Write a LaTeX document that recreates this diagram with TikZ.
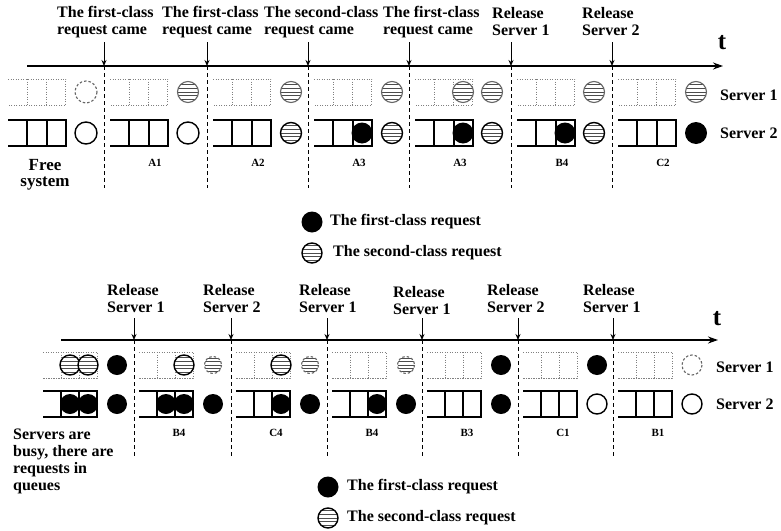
\documentclass[tikz,border=0pt]{standalone}
\usepackage{fontspec}
\setmainfont{Liberation Serif}
\usetikzlibrary{arrows.meta}

\newcommand{\evfont}{\fontsize{16}{17}\selectfont\bfseries}

\tikzset{
  qsolid/.style={line width=1.8pt},
  qdot/.style={line width=0.9pt, gray, dash pattern=on 1.3pt off 1.2pt},
  ring/.style={line width=1.4pt},
  ringgray/.style={line width=1.1pt, gray!80!black},
  ringdash/.style={line width=1.1pt, gray!80!black, dash pattern=on 2.5pt off 2pt},
  stripe/.style={line width=1pt, gray!60!black},
  sepline/.style={line width=1pt, dash pattern=on 4pt off 3pt},
  evarrow/.style={line width=1pt, -{Stealth[length=6pt,width=5pt]}},
  taxis/.style={line width=2pt, -{Stealth[length=10pt,width=7pt]}},
  evtext/.style={font=\evfont, align=left, anchor=west, inner sep=0pt},
  seglabel/.style={font=\fontsize{11}{11}\selectfont\bfseries, inner sep=0pt},
  srvlabel/.style={font=\evfont, anchor=west, inner sep=0pt},
}

% queue: left x, centre y, cell width, style
\newcommand{\qline}[4]{%
  \draw[#4] (#1,#2-13) -- ++(3*#3,0) -- ++(0,26) -- ++(-3*#3,0)
    (#1+#3,#2-13) -- ++(0,26) (#1+2*#3,#2-13) -- ++(0,26);}
% first-class request: x, y, radius
\newcommand{\reqone}[3]{\fill (#1,#2) circle (#3);}
% second-class request: x, y, radius, outline style
\newcommand{\reqtwo}[4]{%
  \fill[white] (#1,#2) circle (#3);
  \begin{scope}
    \clip (#1,#2) circle (#3);
    \foreach \k in {-2,...,2}
      \draw[stripe] (#1-#3,#2+\k*0.38*#3) -- ++(2*#3,0);
  \end{scope}
  \draw[#4] (#1,#2) circle (#3);}
% idle server: x, y, radius, outline style
\newcommand{\reqnone}[4]{\draw[#4, fill=white] (#1,#2) circle (#3);}

\begin{document}
\begin{tikzpicture}[x=1pt, y=-1pt]
  \useasboundingbox (0,0) rectangle (781,530);

  % ---------------- upper time line ----------------
  \coordinate (ta0) at (27,66);
  \coordinate (ta1) at (723,66);
  \draw[taxis] (ta0) -- (ta1);
  \node[font=\fontsize{25}{25}\selectfont\bfseries] (tu) at (722,43) {t};

  % events and separators
  \foreach \b [count=\i] in {104,207,308,409,511,612} {
    \coordinate (ue\i) at (\b,66);
    \draw[evarrow] (\b,42) -- (ue\i);
    \draw[sepline] (ue\i) -- (\b,188);
  }
  \node[evtext] (ul1) at (57,22) {The first-class\\request came};
  \node[evtext] (ul2) at (162,22) {The first-class\\request came};
  \node[evtext] (ul3) at (264,22) {The second-class\\request came};
  \node[evtext] (ul4) at (383,22) {The first-class\\request came};
  \node[evtext] (ul5) at (492,22) {Release\\Server 1};
  \node[evtext] (ul6) at (582,22) {Release\\Server 2};

  % empty queues of both servers
  \foreach \b/\lab [count=\i] in {2/,104/A1,207/A2,308/A3,409/A3,511/B4,612/C2} {
    \qline{\b+6}{92}{19.3}{qdot}
    \qline{\b+6}{133}{19.3}{qsolid}
    \node[seglabel] (us\i) at (\b+51,163) {\lab};
  }

  % states of the system
  \reqnone{86}{92}{11}{ringdash}
  \reqnone{86}{133}{11}{ring}
  \reqtwo{188}{92}{10.5}{ringgray}
  \reqnone{188}{133}{11}{ring}
  \reqtwo{291}{92}{10.5}{ringgray}
  \reqtwo{291}{133}{10.5}{ring}
  \reqtwo{392}{92}{10.5}{ringgray}
  \reqone{362}{133}{10.5}
  \reqtwo{392}{133}{10.5}{ring}
  \reqtwo{463}{92}{10.5}{ringgray}
  \reqtwo{492}{92}{10.5}{ringgray}
  \reqone{463}{133}{10.5}
  \reqtwo{492}{133}{10.5}{ring}
  \reqtwo{594}{92}{10.5}{ringgray}
  \reqone{565}{133}{10.5}
  \reqtwo{594}{133}{10.5}{ring}
  \reqtwo{696}{92}{10.5}{ringgray}
  \reqone{696}{133}{11}

  \node[srvlabel] (us1n) at (720,95) {Server 1};
  \node[srvlabel] (us2n) at (720,133) {Server 2};
  \node[font=\fontsize{17}{16}\selectfont\bfseries, align=center, inner sep=0pt]
    (free) at (45,175) {Free\\system};

  % legend
  \reqone{312}{222}{10.5}
  \node[srvlabel] (ulg1) at (330,222) {The first-class request};
  \reqtwo{312}{253}{10}{ring}
  \node[srvlabel] (ulg2) at (333,253) {The second-class request};

  % ---------------- lower time line ----------------
  \coordinate (tb0) at (61,340);
  \coordinate (tb1) at (718,340);
  \draw[taxis] (tb0) -- (tb1);
  \node[font=\fontsize{25}{25}\selectfont\bfseries] (tl) at (717,319) {t};

  \foreach \b [count=\i] in {134,231,327,422,518,613} {
    \coordinate (le\i) at (\b,340);
    \draw[evarrow] (\b,318) -- (le\i);
    \draw[sepline] (le\i) -- (\b,457);
  }
  \node[evtext] (ll1) at (107,299) {Release\\Server 1};
  \node[evtext] (ll2) at (203,299) {Release\\Server 2};
  \node[evtext] (ll3) at (299,299) {Release\\Server 1};
  \node[evtext] (ll4) at (393,301) {Release\\Server 1};
  \node[evtext] (ll5) at (487,299) {Release\\Server 2};
  \node[evtext] (ll6) at (583,299) {Release\\Server 1};

  \foreach \b/\lab [count=\i] in {38/,134/B4,231/C4,327/B4,422/B3,518/C1,613/B1} {
    \qline{\b+5}{365}{18}{qdot}
    \qline{\b+5}{404}{18}{qsolid}
    \node[seglabel] (ls\i) at (\b+45,433) {\lab};
  }

  % states of the system
  \reqtwo{70}{365}{10}{ring}
  \reqtwo{88}{365}{10}{ring}
  \reqone{117}{365}{10}
  \reqone{70}{404}{10}
  \reqone{88}{404}{10}
  \reqone{117}{404}{10}
  \reqtwo{184}{365}{10}{ring}
  \reqtwo{213}{365}{8.5}{ringdash}
  \reqone{166}{404}{10}
  \reqone{184}{404}{10}
  \reqone{213}{404}{10}
  \reqtwo{281}{365}{10}{ring}
  \reqtwo{310}{365}{8.5}{ringdash}
  \reqone{281}{404}{10}
  \reqone{310}{404}{10}
  \reqtwo{406}{365}{8.5}{ringdash}
  \reqone{377}{404}{10}
  \reqone{406}{404}{10}
  \reqone{501}{365}{10}
  \reqone{501}{404}{10}
  \reqone{597}{365}{10}
  \reqnone{597}{404}{10}{ring}
  \reqnone{692}{365}{10}{ringdash}
  \reqnone{692}{404}{10}{ring}

  \node[srvlabel] (ls1n) at (716,367) {Server 1};
  \node[srvlabel] (ls2n) at (716,404) {Server 2};
  \node[evtext, anchor=north west] (busy) at (13,429)
    {Servers are\\busy, there are\\requests in\\queues};

  % legend
  \reqone{328}{487}{10.5}
  \node[srvlabel] (llg1) at (347,487) {The first-class request};
  \reqtwo{328}{518}{10}{ring}
  \node[srvlabel] (llg2) at (347,518) {The second-class request};
\end{tikzpicture}
\end{document}
